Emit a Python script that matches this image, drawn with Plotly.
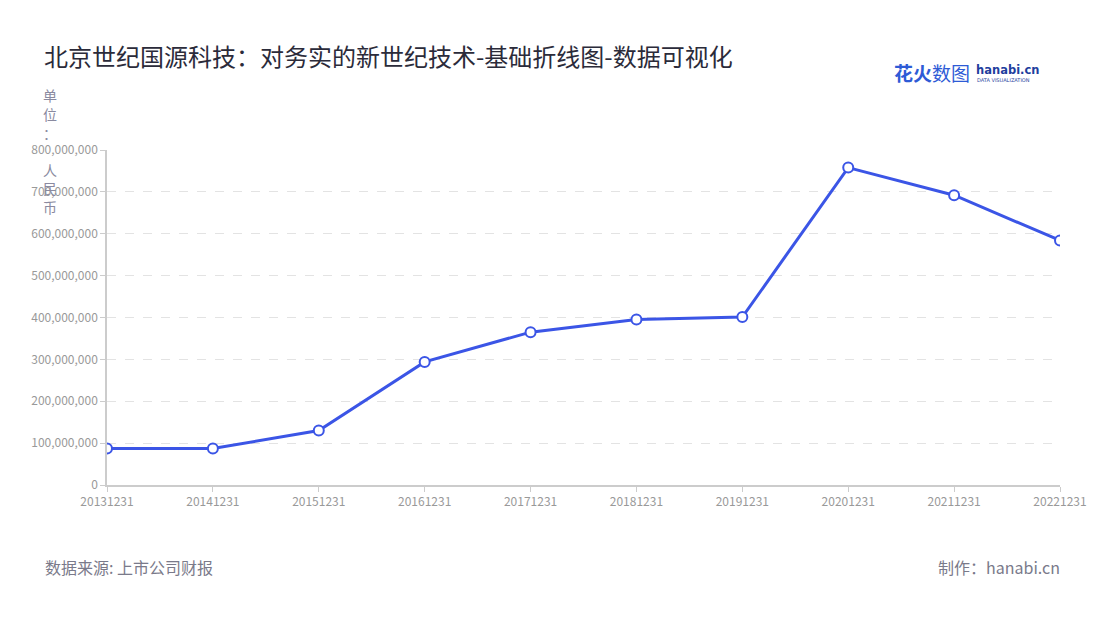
import plotly.graph_objects as go

categories = ["20131231", "20141231", "20151231", "20161231", "20171231",
              "20181231", "20191231", "20201231", "20211231", "20221231"]
values = [87_000_000, 87_000_000, 130_000_000, 294_000_000, 365_000_000,
          395_000_000, 401_000_000, 758_000_000, 692_000_000, 584_000_000]
y_ticks = [0, 100_000_000, 200_000_000, 300_000_000, 400_000_000,
           500_000_000, 600_000_000, 700_000_000, 800_000_000]
y_tick_labels = ["0", "100,000,000", "200,000,000", "300,000,000", "400,000,000",
                 "500,000,000", "600,000,000", "700,000,000", "800,000,000"]
unit_chars = ["单", "位", "：", "人", "民", "币"]

FONT = "Noto Sans CJK SC"
W, H = 1100, 620
OFF = 8  # page body margin offset
L, R, T, B = 107 - OFF, 1060 - OFF, 150 - OFF, 485 - OFF

fig = go.Figure()
fig.add_trace(go.Scatter(
    x=categories, y=values, mode="lines+markers",
    line=dict(color="#3b55e6", width=3),
    marker=dict(size=10, color="white", line=dict(color="#3b55e6", width=2)),
    hoverinfo="x+y", showlegend=False,
))

fig.update_layout(
    width=W, height=H,
    paper_bgcolor="white", plot_bgcolor="white",
    margin=dict(l=L, r=W - R, t=T, b=H - B, autoexpand=False),
    font=dict(family=FONT, color="#999999", size=12),
    xaxis=dict(
        type="category", range=[0, len(categories) - 1],
        showgrid=False, showline=True, linecolor="#cccccc", linewidth=1.5,
        ticks="outside", ticklen=5, tickcolor="#cccccc",
        tickfont=dict(size=12, color="#999999", family=FONT),
        zeroline=False, fixedrange=True,
    ),
    yaxis=dict(
        range=[0, 800_000_000], tickvals=y_ticks, ticktext=y_tick_labels,
        showgrid=True, gridcolor="#e3e3e3", griddash="dash", gridwidth=1,
        showline=True, linecolor="#cccccc", linewidth=1.5,
        ticks="outside", ticklen=5, tickcolor="#cccccc",
        tickfont=dict(size=12, color="#999999", family=FONT),
        zeroline=False, fixedrange=True,
    ),
)


def place(text, rx, ry, xanchor, size, color, family=FONT):
    """Place text at reference-pixel coordinates."""
    px, py = rx - OFF, ry - OFF
    return dict(text=text, xref="paper", yref="paper", showarrow=False,
                x=(px - L) / (R - L), y=(B - py) / (B - T),
                xanchor=xanchor, yanchor="middle",
                font=dict(size=size, color=color, family=family))


annotations = [
    place("北京世纪国源科技：对务实的新世纪技术-基础折线图-数据可视化",
          42, 55, "left", 24, "#2b2b3a"),
    place("数据来源: 上市公司财报", 43, 567, "left", 16, "#7a7a8a"),
    place("制作：hanabi.cn", 1062, 567, "right", 16, "#7a7a8a"),
    place("<b>花火</b>数图", 892, 73, "left", 19, "#2e5bd6"),
    place("<b>hanabi.cn</b>", 974, 70, "left", 11.5, "#1f3f9e", "DejaVu Sans"),
    place("DATA VISUALIZATION", 975, 80, "left", 5, "#1f3f9e", "DejaVu Sans"),
]
unit_y = [95, 114, 133, 170, 188, 207]
for ch, uy in zip(unit_chars, unit_y):
    annotations.append(place(ch, 50, uy, "center", 14, "#8a8aa0"))

fig.update_layout(annotations=annotations)

fig.write_html("out.html")
